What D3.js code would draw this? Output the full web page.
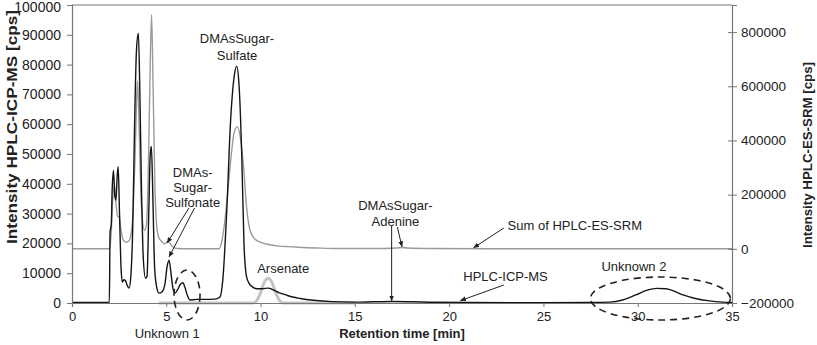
<!DOCTYPE html>
<html>
<head>
<meta charset="utf-8">
<script src="https://cdn.jsdelivr.net/npm/d3@7"></script>
<style>
  body { margin: 0; background: #fff; }
  svg { font-family: "Liberation Sans", Arial, sans-serif; }
</style>
</head>
<body>
<svg width="817" height="345"></svg>
<script>
// retention time [min] / intensity [cps]
const icpTime = [0, 1.98, 2.02, 2.08, 2.13, 2.2, 2.27, 2.33, 2.4, 2.45, 2.52, 2.6, 2.67, 2.75, 2.84, 2.92, 3.03, 3.12, 3.22, 3.32, 3.42, 3.52, 3.6, 3.68, 3.78, 3.9, 3.98, 4.07, 4.15, 4.21, 4.29, 4.38, 4.5, 4.62, 4.78, 4.92, 5.05, 5.15, 5.25, 5.35, 5.46, 5.6, 5.75, 5.88, 6.0, 6.12, 6.26, 6.6, 7.0, 7.6, 7.85, 8.0, 8.2, 8.4, 8.6, 8.73, 8.85, 9.0, 9.12, 9.25, 9.4, 9.55, 9.8, 10.1, 10.4, 10.7, 11.0, 11.3, 11.7, 12.1, 12.8, 13.8, 15, 16, 17, 18, 19, 21, 25, 27.5, 28.5, 29.2, 29.9, 30.5, 31.0, 31.5, 32.0, 32.4, 33, 33.8, 34.5, 35];
const icpCps = [200, 200, 24000, 26000, 38000, 44500, 36000, 34500, 43000, 45700, 30000, 12000, 7000, 7800, 7500, 6000, 5000, 9000, 25000, 60000, 85000, 90500, 70000, 40000, 15000, 8300, 9000, 30000, 50000, 52500, 35000, 12000, 5000, 3300, 3800, 6000, 12500, 14300, 10000, 5000, 3300, 4500, 6300, 6800, 5000, 2500, 1000, 1200, 1200, 1300, 2000, 8000, 30000, 60000, 76000, 79500, 74000, 50000, 20000, 9000, 6500, 5500, 4800, 4800, 5000, 4300, 3400, 2800, 2000, 1500, 900, 450, 300, 400, 500, 400, 250, 150, 100, 150, 300, 1000, 2700, 4300, 4900, 4800, 3800, 2700, 1600, 700, 300, 200];

const srmTime = [0, 2.0, 2.08, 2.15, 2.25, 2.33, 2.42, 2.5, 2.58, 2.7, 2.85, 3.0, 3.12, 3.25, 3.35, 3.43, 3.48, 3.56, 3.68, 3.85, 3.95, 4.05, 4.14, 4.22, 4.3, 4.4, 4.5, 4.6, 4.75, 4.9, 5.05, 5.15, 5.3, 5.5, 6, 7.8, 7.95, 8.1, 8.25, 8.45, 8.6, 8.77, 8.95, 9.1, 9.25, 9.4, 9.55, 9.75, 10, 10.5, 11, 11.5, 12, 13, 14, 16, 17.2, 17.5, 17.8, 19, 22, 35];
const srmCps = [0, 0, 60000, 170000, 235000, 170000, 120000, 118000, 80000, 35000, 25000, 28000, 50000, 150000, 350000, 560000, 620000, 450000, 160000, 68000, 90000, 300000, 650000, 865000, 600000, 220000, 80000, 42000, 28000, 18000, 25000, 24000, 10000, 2000, 0, 0, 30000, 100000, 200000, 350000, 430000, 450000, 400000, 300000, 160000, 80000, 50000, 33000, 24000, 15000, 10000, 8000, 6000, 3000, 1000, 1000, 3000, 5000, 3000, 1000, 0, 0];

// light grey arsenate trace (left axis units)
const asTime = [4.6, 9.6, 9.8, 10.0, 10.2, 10.4, 10.6, 10.8, 11.0, 11.2, 15];
const asCps = [0, 0, 800, 3500, 7000, 8300, 7000, 3500, 900, 0, 0];

const xTicks = [0, 5, 10, 15, 20, 25, 30, 35];
const leftTicks = [0, 10000, 20000, 30000, 40000, 50000, 60000, 70000, 80000, 90000, 100000];
const rightTicks = [-200000, 0, 200000, 400000, 600000, 800000];

const margin = { left: 72, right: 85, top: 5, bottom: 42 };
const W = 817, H = 345;
const svg = d3.select("svg");

const x = d3.scaleLinear().domain([0, 35]).range([margin.left, W - margin.right]);
const yL = d3.scaleLinear().domain([0, 100000]).range([H - margin.bottom, margin.top]);
const yR = d3.scaleLinear().domain([-200000, 900000]).range([H - margin.bottom, margin.top]);

const axisCol = "#777";

// top frame line
svg.append("line")
    .attr("x1", x(0)).attr("x2", x(35))
    .attr("y1", yL(100000)).attr("y2", yL(100000))
    .attr("stroke", axisCol).attr("stroke-width", 1.2);

// traces
const mkLine = (scale) => d3.line().x(d => x(d[0])).y(d => scale(d[1])).curve(d3.curveMonotoneX);

svg.append("path")
    .datum(d3.zip(asTime, asCps))
    .attr("d", mkLine(yL))
    .attr("fill", "none").attr("stroke", "#c4c4c4").attr("stroke-width", 3);

svg.append("path")
    .datum(d3.zip(srmTime, srmCps))
    .attr("d", mkLine(yR))
    .attr("fill", "none").attr("stroke", "#9a9a9a").attr("stroke-width", 1.4);

svg.append("path")
    .datum(d3.zip(icpTime, icpCps))
    .attr("d", mkLine(yL))
    .attr("fill", "none").attr("stroke", "#151515").attr("stroke-width", 1.4);

// axes
const gx = svg.append("g")
    .attr("transform", `translate(0,${H - margin.bottom})`)
    .call(d3.axisBottom(x).tickValues(xTicks).tickSize(4).tickPadding(5));
const gl = svg.append("g")
    .attr("transform", `translate(${margin.left},0)`)
    .call(d3.axisLeft(yL).tickValues(leftTicks).tickFormat(d3.format("d")).tickSize(5).tickPadding(6));
const gr = svg.append("g")
    .attr("transform", `translate(${W - margin.right},0)`)
    .call(d3.axisRight(yR).tickValues(rightTicks).tickFormat(d => d < 0 ? "\u2212" + Math.abs(d) : d).tickSize(5).tickPadding(4));
gr.selectAll(".tick line").attr("x1", -4);

[gx, gl, gr].forEach(g => {
    g.select(".domain").attr("stroke", axisCol).attr("stroke-width", 1.2);
    g.selectAll(".tick line").attr("stroke", axisCol);
    g.selectAll(".tick text").attr("fill", "#222").style("font-size", "13px");
});
gl.selectAll(".tick text").style("font-size", "14px");
gr.selectAll(".tick text").style("font-size", "13.5px");
// keep the top label inside the picture
gl.selectAll(".tick").filter(d => d === 100000).select("text").attr("dy", "0.45em");

// axis titles
svg.append("text")
    .attr("transform", `translate(17,${127}) rotate(-90)`)
    .attr("text-anchor", "middle")
    .attr("textLength", 234).attr("lengthAdjust", "spacingAndGlyphs")
    .style("font-weight", "bold").style("font-size", "15px").attr("fill", "#222")
    .text("Intensity HPLC-ICP-MS [cps]");
svg.append("text")
    .attr("transform", `translate(812,${155}) rotate(-90)`)
    .attr("text-anchor", "middle")
    .attr("textLength", 186).attr("lengthAdjust", "spacingAndGlyphs")
    .style("font-weight", "bold").style("font-size", "12.5px").attr("fill", "#222")
    .text("Intensity HPLC-ES-SRM [cps]");
svg.append("text")
    .attr("x", 402).attr("y", 338)
    .attr("text-anchor", "middle")
    .style("font-weight", "bold").style("font-size", "13px").attr("fill", "#222")
    .text("Retention time [min]");

// annotations
const note = (lines, cx, cy, dy) => {
    lines.forEach((t, i) => {
        svg.append("text")
            .attr("x", cx).attr("y", cy + i * dy)
            .attr("text-anchor", "middle")
            .style("font-size", "13px").attr("fill", "#222")
            .text(t);
    });
};
note(["DMAsSugar-", "Sulfate"], x(8.75), 43, 17);
note(["DMAs-", "Sugar-", "Sulfonate"], x(6.4), 177, 15);
note(["Arsenate"], x(11.2), 273, 0);
note(["DMAsSugar-", "Adenine"], x(17.15), 210, 16);
note(["Unknown 2"], x(29.8), 271, 0);
note(["Unknown 1"], x(5.05), 338, 0);
svg.append("text").attr("x", x(23.1)).attr("y", 230)
    .style("font-size", "13px").attr("fill", "#222").text("Sum of HPLC-ES-SRM");
svg.append("text").attr("x", x(20.75)).attr("y", 281)
    .style("font-size", "13px").attr("fill", "#222").text("HPLC-ICP-MS");

// arrows
svg.append("defs").append("marker")
    .attr("id", "ah").attr("viewBox", "0 0 10 10")
    .attr("refX", 9).attr("refY", 5)
    .attr("markerWidth", 6).attr("markerHeight", 6)
    .attr("orient", "auto")
    .append("path").attr("d", "M0,1 L10,5 L0,9 Z").attr("fill", "#222");

const arrows = [
    [x(6.2), 208, x(5.05), yR(22000)],
    [x(6.5), 208, x(5.15), yL(15500)],
    [x(16.95), 226, x(16.95), yL(700)],
    [x(17.25), 227, x(17.5), yR(8000)],
    [x(22.9), 228, x(21.3), yR(4000)],
    [x(22.9), 285, x(20.6), yL(800)]
];
svg.selectAll(".arrow").data(arrows).join("line")
    .attr("class", "arrow")
    .attr("x1", d => d[0]).attr("y1", d => d[1])
    .attr("x2", d => d[2]).attr("y2", d => d[3])
    .attr("stroke", "#222").attr("stroke-width", 1)
    .attr("marker-end", "url(#ah)");

// dashed ellipses
const ellipses = [[x(6.1), 295, 13, 25], [x(31.2), 298.5, 70, 21.5]];
svg.selectAll(".ring").data(ellipses).join("ellipse")
    .attr("class", "ring")
    .attr("cx", d => d[0]).attr("cy", d => d[1])
    .attr("rx", d => d[2]).attr("ry", d => d[3])
    .attr("fill", "none").attr("stroke", "#222")
    .attr("stroke-width", 1.6).attr("stroke-dasharray", "7,5");
</script>
</body>
</html>
